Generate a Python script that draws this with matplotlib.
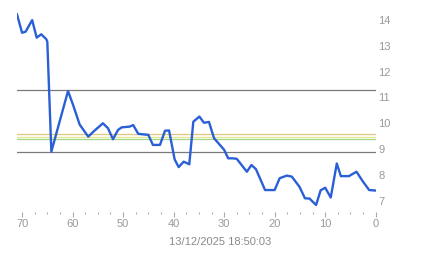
import matplotlib
matplotlib.use("Agg")
import matplotlib.pyplot as plt
from matplotlib.ticker import MultipleLocator

# Datos de la serie
x_vals = [71, 70, 69.3, 68, 67.1, 66.2, 65.2, 65, 64.2, 60.9, 59.9, 58.6, 56.9, 55.9,
          54, 53, 52, 51, 50.3, 48.7, 48, 47, 45, 44.1, 42.7, 41.7, 40.9, 39.8, 39,
          38, 36.9, 36.1, 34.9, 34, 33, 32, 30, 29.2, 28.3, 27.5, 25.5, 24.6, 23.7,
          21.9, 20, 19, 17.6, 16.6, 15.1, 14, 13.1, 11.8, 10.9, 10, 8.9, 7.7, 6.9,
          5.3, 3.8, 2.6, 1.3, 0]
y_vals = [14.22, 13.51, 13.55, 14.0, 13.32, 13.45, 13.26, 13.16, 8.9, 11.25, 10.71,
          9.95, 9.48, 9.67, 10.0, 9.81, 9.38, 9.74, 9.84, 9.87, 9.93, 9.59, 9.55,
          9.16, 9.16, 9.71, 9.72, 8.6, 8.3, 8.51, 8.41, 10.06, 10.26, 10.02, 10.05,
          9.42, 8.97, 8.64, 8.64, 8.62, 8.12, 8.38, 8.22, 7.41, 7.41, 7.87, 7.97,
          7.93, 7.54, 7.09, 7.08, 6.83, 7.4, 7.5, 7.12, 8.44, 7.95, 7.95, 8.12,
          7.76, 7.41, 7.39]

# Líneas horizontales de referencia
gray_levels = [11.29, 8.90]
color_levels = [9.57, 9.48, 9.39]
color_level_colors = ['#e2c57e', '#e4e88a', '#a4d68a']

x_ticks = [70, 60, 50, 40, 30, 20, 10, 0]
y_ticks = [7, 8, 9, 10, 11, 12, 13, 14]
timestamp = '13/12/2025 18:50:03'

plt.rcParams['font.family'] = ['Liberation Sans', 'DejaVu Sans']

fig = plt.figure(figsize=(4.43, 2.58), dpi=100)
ax = fig.add_axes([17 / 443, 1 - 211.7 / 258, 358.7 / 443, 201.9 / 258])

for lvl in gray_levels:
    ax.axhline(lvl, color='#7a7a7a', linewidth=0.9, zorder=1)
for lvl, col in zip(color_levels, color_level_colors):
    ax.axhline(lvl, color=col, linewidth=0.9, zorder=1)

ax.plot(x_vals, y_vals, color='#2a5fd6', linewidth=1.7, zorder=3)

ax.set_xlim(71, 0)
ax.set_ylim(6.57, 14.4)

for side in ['top', 'right', 'left', 'bottom']:
    ax.spines[side].set_visible(False)

ax.set_xticks(x_ticks)
ax.xaxis.set_minor_locator(MultipleLocator(2.5))
ax.tick_params(axis='x', which='major', length=3.6, width=0.8, color='#aaaaaa',
               labelsize=8, labelcolor='#999999', pad=1.5)
ax.tick_params(axis='x', which='minor', length=1.5, width=0.8, color='#aaaaaa')

ax.set_yticks(y_ticks)
ax.yaxis.tick_right()
ax.tick_params(axis='y', length=0, labelsize=8, labelcolor='#999999', pad=2)

fig.text(0.497, 0.063, timestamp, ha='center', va='center', fontsize=8, color='#8a8a8a')

plt.savefig('out.png', dpi=100)
